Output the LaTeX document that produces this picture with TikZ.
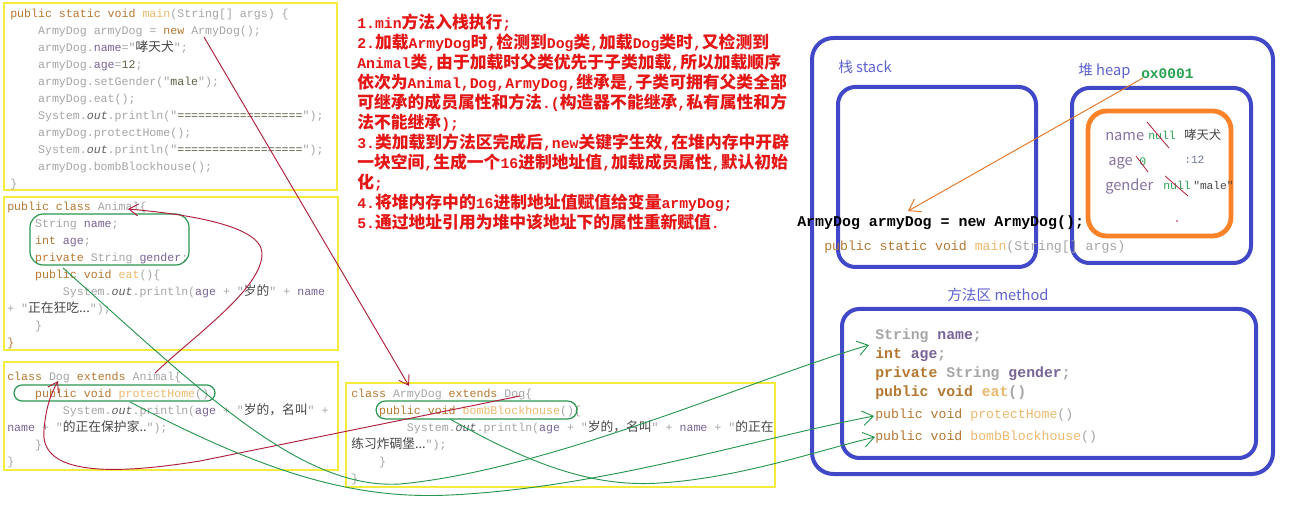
\documentclass[tikz,border=0pt]{standalone}
\usepackage{fontspec}
\setmonofont{Liberation Mono}
\newfontfamily\cjk{Noto Sans CJK SC}[Scale=1.1]
\newfontfamily\cjknote{Noto Sans CJK SC}[Scale=1.135]
\newfontfamily\memfont{Noto Sans CJK SC}
\usetikzlibrary{arrows.meta}
\definecolor{codeKw}{RGB}{180,120,50}
\definecolor{codeFn}{RGB}{235,185,110}
\definecolor{codeId}{RGB}{165,165,165}
\definecolor{codeFd}{RGB}{120,100,150}
\definecolor{codeStr}{RGB}{70,70,70}
\definecolor{codeOut}{RGB}{95,95,95}
\definecolor{codeEq}{RGB}{95,95,70}
\definecolor{boxYellow}{RGB}{245,235,60}
\definecolor{lineRed}{RGB}{175,30,60}
\definecolor{lineGreen}{RGB}{40,150,80}
\definecolor{noteRed}{RGB}{228,22,22}
\definecolor{memBlue}{RGB}{65,72,200}
\definecolor{memOrange}{RGB}{250,130,40}
\definecolor{addrGreen}{RGB}{40,160,80}
\definecolor{heapKey}{RGB}{135,115,160}
\definecolor{numBlue}{RGB}{110,120,150}
\newcommand{\tab}{\hspace*{2.4em}}
\newcommand{\kw}[1]{\textcolor{codeKw}{#1}}
\newcommand{\fn}[1]{\textcolor{codeFn}{#1}}
\newcommand{\fd}[1]{\textcolor{codeFd}{#1}}
\newcommand{\zs}[1]{{\cjk\color{codeStr}#1}}
\newcommand{\sv}[1]{\textcolor{codeEq}{#1}}
\newcommand{\ot}[1]{\textcolor{codeOut}{\textit{#1}}}
\newcommand{\zn}[1]{{\cjknote #1}}
\tikzset{
  codebox/.style={draw=boxYellow, line width=1.1pt},
  code/.style={anchor=north west, inner sep=0pt, align=left, text=codeId,
    font=\ttfamily\fontsize{8.7}{12.75}\selectfont, execute at begin node=\strut},
  ring/.style={draw=lineGreen, line width=0.9pt},
  redlink/.style={draw=lineRed, line width=0.7pt, -{Straight Barb[length=7pt,width=9pt]}},
  greenlink/.style={draw=lineGreen, line width=0.7pt, -{Straight Barb[length=8pt,width=11pt]}},
  memframe/.style={draw=memBlue, line width=3pt},
  memlabel/.style={anchor=base west, inner sep=0pt, text=memBlue!85!white,
    font=\memfont\fontsize{11}{13}\selectfont},
  heapkey/.style={anchor=base west, inner sep=0pt, text=heapKey,
    font=\memfont\fontsize{11}{13}\selectfont},
  heapnull/.style={anchor=base west, inner sep=0pt, text=addrGreen,
    font=\ttfamily\fontsize{8.6}{10}\selectfont},
  heapval/.style={anchor=base west, inner sep=0pt, text=codeStr,
    font=\ttfamily\fontsize{8.4}{10}\selectfont},
  strike/.style={draw=lineRed, line width=0.6pt}
}
\begin{document}
\begin{tikzpicture}[x=0.75pt,y=-0.75pt]
\useasboundingbox (0,0) rectangle (1296,516);
\fill[white] (0,0) rectangle (1296,516);

% code of the four classes
\draw[codebox] (4,3) rectangle (337,190);
\node[code] (mainCode) at (10,9) {%
\kw{public static void} \fn{main}(String[] args) \{\\
\tab ArmyDog armyDog = \kw{new} ArmyDog();\\
\tab armyDog.\fd{name}="\zs{哮天犬}";\\
\tab armyDog.\fd{age}=\sv{12};\\
\tab armyDog.setGender("\sv{male}");\\
\tab armyDog.eat();\\
\tab System.\ot{out}.println("\sv{==================}");\\
\tab armyDog.protectHome();\\
\tab System.\ot{out}.println("\sv{==================}");\\
\tab armyDog.bombBlockhouse();\\
\}};

\draw[codebox] (4,197) rectangle (338,350);
\node[code] (animalCode) at (7,202) {%
\kw{public class} Animal\{\\
\tab String \fd{name};\\
\tab \kw{int} \fd{age};\\
\tab \kw{private} String \fd{gender};\\
\tab \kw{public void} \fn{eat}()\{\\
\tab\tab System.\ot{out}.println(\fd{age} + "\zs{岁的}" + \fd{name}\\
+ "\zs{正在狂吃...}");\\
\tab \}\\
\kw{\}}};
\draw[ring, rounded corners=10pt] (30,214) rectangle (189,265);

\draw[codebox] (4,362) rectangle (338,470);
\node[code] (dogCode) at (7,372) {%
\kw{class} Dog \kw{extends} Animal\{\\
\tab \kw{public void} \fn{protectHome}()\\
\tab\tab System.\ot{out}.println(\fd{age} + "\zs{岁的，名叫}" +\\
\fd{name} + "\zs{的正在保护家..}");\\
\tab \}\\
\}};
\draw[ring, rounded corners=6pt] (14,385) rectangle (215,401);

\draw[codebox] (346,383) rectangle (775,487);
\node[code] (armyCode) at (351,389) {%
\kw{class} ArmyDog \kw{extends} Dog\{\\
\tab \kw{public void} \fn{bombBlockhouse}()\{\\
\tab\tab System.\ot{out}.println(\fd{age} + "\zs{岁的，名叫}" + \fd{name} + "\zs{的正在}\\
\zs{练习炸碉堡...}");\\
\tab \}\\
\}};
\draw[ring, rounded corners=7pt] (376,401) rectangle (577,419);

% notes
\node[anchor=north west, inner sep=0pt, align=left, text=noteRed,
  font=\ttfamily\bfseries\fontsize{11.1}{15}\selectfont] (notes) at (357,14) {%
1.min\zn{方法入栈执行};\\
2.\zn{加载}ArmyDog\zn{时},\zn{检测到}Dog\zn{类},\zn{加载}Dog\zn{类时},\zn{又检测到}\\
Animal\zn{类},\zn{由于加载时父类优先于子类加载},\zn{所以加载顺序}\\
\zn{依次为}Animal,Dog,ArmyDog,\zn{继承是},\zn{子类可拥有父类全部}\\
\zn{可继承的成员属性和方法}.(\zn{构造器不能继承},\zn{私有属性和方}\\
\zn{法不能继承});\\
3.\zn{类加载到方法区完成后},new\zn{关键字生效},\zn{在堆内存中开辟}\\
\zn{一块空间},\zn{生成一个}16\zn{进制地址值},\zn{加载成员属性},\zn{默认初始}\\
\zn{化};\\
4.\zn{将堆内存中的}16\zn{进制地址值赋值给变量}armyDog;\\
5.\zn{通过地址引用为堆中该地址下的属性重新赋值}.};

% memory
\draw[memframe, rounded corners=16pt] (812,38) rectangle (1273,474);
\node[memlabel] (stackLbl) at (838,73) {栈 stack};
\draw[memframe, rounded corners=13pt] (838,87) rectangle (1036,267);
\node[memlabel] (heapLbl) at (1078,76) {堆 heap};
\node[anchor=base west, inner sep=0pt, text=addrGreen,
  font=\ttfamily\bfseries\fontsize{10.9}{12}\selectfont] (addr) at (1141,79) {ox0001};
\draw[memframe, rounded corners=13pt] (1072,88) rectangle (1251,263);
\draw[draw=memOrange, line width=3.6pt, rounded corners=14pt] (1088,111) rectangle (1231,236);

\node[heapkey] (nameKey) at (1105,141) {name};
\node[heapnull] (nameNull) at (1148,140) {null};
\node[heapval] (nameVal) at (1184,140) {\cjk 哮天犬};
\node[heapkey] (ageKey) at (1108,166) {age};
\node[heapnull] (ageZero) at (1139,166) {0};
\node[heapval, text=numBlue] (ageVal) at (1184,164) {:12};
\node[heapkey] (genderKey) at (1105,191) {gender};
\node[heapnull] (genderNull) at (1163,190) {null};
\node[heapval] (genderVal) at (1193,190) {"male"};
\draw[strike] (1147,122) -- (1169,148);
\draw[strike] (1136,156) -- (1148,172);
\draw[strike] (1165,176) -- (1188,196);
\fill[lineRed] (1177,221) circle (0.9);

\node[anchor=base west, inner sep=0pt, text=black,
  font=\ttfamily\bfseries\fontsize{11.2}{13}\selectfont] (newStmt) at (797,227) {ArmyDog armyDog = new ArmyDog();};
\node[anchor=base west, inner sep=0pt, text=codeId,
  font=\ttfamily\fontsize{9.9}{12}\selectfont] (mainSig) at (824,251) {\kw{public static void} \fn{main}(String[] args)};

\node[memlabel] (methodLbl) at (947,301) {方法区 method};
\draw[memframe, rounded corners=13pt] (842,309) rectangle (1256,458);
\node[anchor=north west, inner sep=0pt, align=left, text=codeId,
  font=\ttfamily\bfseries\fontsize{11.1}{14.25}\selectfont, execute at begin node=\strut] (methodFields) at (875,329) {%
String \fd{name};\\
\kw{int} \fd{age};\\
\kw{private} String \fd{gender};\\
\kw{public void} \fn{eat}()};
\node[anchor=north west, inner sep=0pt, align=left, text=codeId,
  font=\ttfamily\fontsize{9.9}{16.5}\selectfont, execute at begin node=\strut] (methodBodies) at (875,409) {%
\kw{public void} \fn{protectHome}()\\
\kw{public void} \fn{bombBlockhouse}()};

% connector ends
\coordinate (newCall) at (204,37);
\coordinate (armyName) at (409,386);
\coordinate (dogParent) at (155,373);
\coordinate (animalName) at (128,209);
\coordinate (armyParent) at (520,396);
\coordinate (dogName) at (58,381);
\coordinate (animalFields) at (63,268);
\coordinate (dogMethod) at (130,402);
\coordinate (armyMethod) at (450,419);
\coordinate (fieldsIn) at (869,345);
\coordinate (protectIn) at (874,416);
\coordinate (bombIn) at (875,437);
\coordinate (addrOut) at (1143,78);
\coordinate (stackRef) at (908,211);

% red: load order
\draw[redlink] (newCall) -- (armyName);
\draw[redlink] (dogParent) .. controls (195,335) and (263,288) .. (262,253)
  .. controls (261,225) and (185,214) .. (animalName);
\draw[redlink] (armyParent) -- (200,461) .. controls (95,478) and (40,470) .. (44,430)
  .. controls (46,405) and (52,392) .. (dogName);

% green: members into method area
\draw[greenlink] (animalFields) .. controls (200,390) and (300,490) .. (400,484)
  .. controls (550,470) and (750,380) .. (fieldsIn);
\draw[greenlink] (dogMethod) .. controls (260,470) and (350,500) .. (450,495)
  .. controls (600,488) and (750,440) .. (protectIn);
\draw[greenlink] (armyMethod) .. controls (540,470) and (600,487) .. (660,483)
  .. controls (740,478) and (820,450) .. (bombIn);

% orange: address to reference
\draw[draw=memOrange!90!black, line width=0.7pt, -{Straight Barb[length=8pt,width=11pt]}] (addrOut) -- (stackRef);
\end{tikzpicture}
\end{document}
